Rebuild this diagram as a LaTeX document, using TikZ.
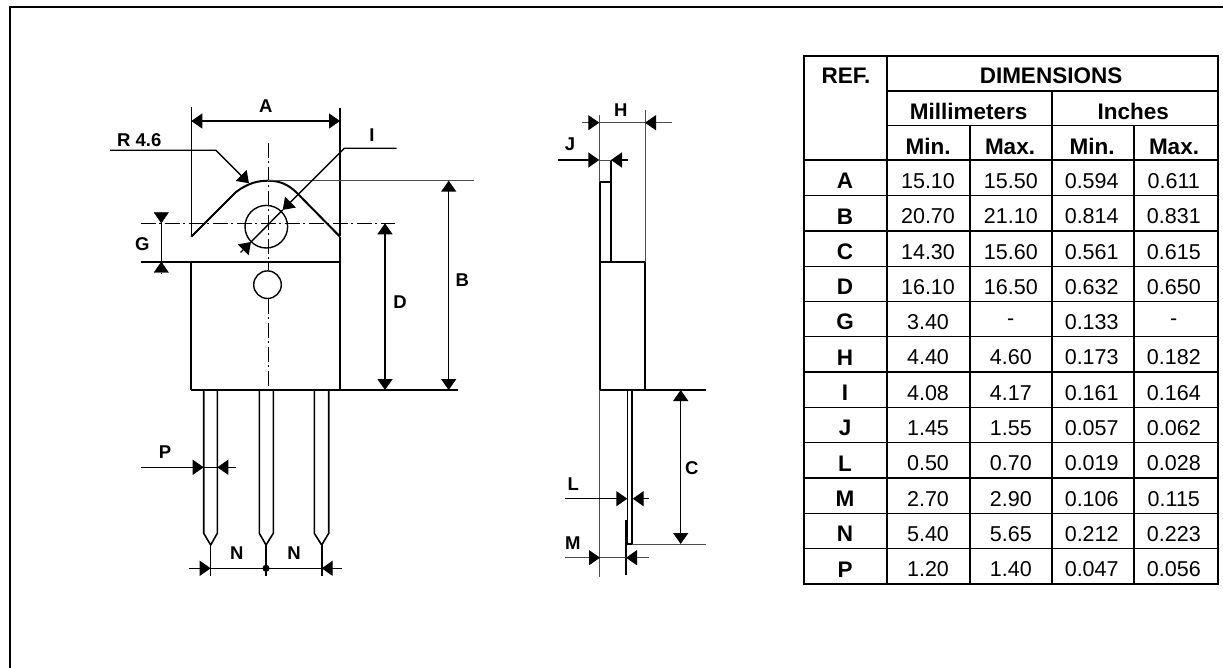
\documentclass[tikz,border=0pt]{standalone}
\usepackage{fontspec}
\setmainfont{Liberation Sans}
\usetikzlibrary{arrows.meta}
\tikzset{
  thickline/.style={line width=2pt},
  pinline/.style={line width=1.6pt},
  thinline/.style={line width=0.9pt,black!70},
  axisline/.style={line width=1pt,dash pattern=on 15pt off 3.5pt on 2pt off 3.5pt},
  dimline/.style={line width=1.4pt},
  tip/.style={-{Triangle[length=11pt,width=15pt,black]}},
  tipboth/.style={{Triangle[length=11pt,width=15pt,black]}-{Triangle[length=11pt,width=15pt,black]}},
  lbl/.style={font=\fontsize{18.5}{18.5}\selectfont\bfseries,inner sep=0pt},
  cell/.style={font=\fontsize{21.5}{21.5}\selectfont,inner sep=0pt},
  headcell/.style={font=\fontsize{22.5}{22.5}\selectfont\bfseries,inner sep=0pt}
}
\begin{document}
\begin{tikzpicture}[x=1pt,y=-1pt]
    \useasboundingbox (0,0) rectangle (1223,668);
    % frame
    \draw[line width=2pt] (10,668) -- (10,7) -- (1223,7);

    % front view
    \draw[line width=1.2pt] (191.3,107) -- (191.3,236);
    \draw[line width=1.2pt] (340,108) -- (340,236);
    \draw[thickline] (191.3,236.7) -- (236,192) .. controls (248,183) and (258,180.7) .. (268.3,180.7)
      .. controls (279,180.7) and (288,184) .. (297,193) -- (340,236.7);
    \draw[thickline] (140.7,261.7) -- (340,261.7);
    \draw[thickline] (191.3,261.7) -- (191.3,390);
    \draw[line width=1.4pt] (340,236.7) -- (340,390);
    \draw[thickline] (191.3,390) -- (458,390);
    \draw[line width=1.4pt] (266.3,226.7) circle (21.3);
    \draw[line width=1.4pt] (267.5,284.7) circle (13.8);
    \draw[axisline] (268.3,143) -- (268.3,271);
    \draw[axisline] (268.3,298.5) -- (268.3,390);
    \draw[axisline] (140.7,223.3) -- (395,223.3);
    \draw[thinline] (268.3,180.7) -- (474,180.7);

    % pins
    \draw[pinline] (203.7,390) -- (203.7,533.3) -- (210.7,545) -- (217.3,533.3) -- (217.3,390);
    \draw[pinline] (259.3,390) -- (259.3,533.3) -- (266,545) -- (273.3,533.3) -- (273.3,390);
    \draw[pinline] (314.3,390) -- (314.3,533.3) -- (321.7,545) -- (328.7,533.3) -- (328.7,390);
    \draw[dimline] (210.7,545) -- (210.7,576);
    \draw[dimline] (266,545) -- (266,576);
    \draw[thickline] (321.7,545) -- (321.7,576);

    % dimensions of the front view
    \draw[dimline,tipboth] (191.3,121) -- (340,121);
    \node[lbl] (labelA) at (265.7,105.7) {A};
    \draw[dimline,tipboth] (448.7,180.7) -- (448.7,390);
    \node[lbl] (labelB) at (462.3,280) {B};
    \draw[dimline,tipboth] (385,223.3) -- (385,390);
    \node[lbl] (labelD) at (400,301.7) {D};
    \draw[dimline] (161.3,223.3) -- (161.3,261.7);
    \draw[tip] (161.3,212.3) -- (161.3,223.3);
    \draw[tip] (161.3,272.7) -- (161.3,261.7);
    \node[lbl] (labelG) at (142.3,244) {G};
    \draw[dimline,tip] (110,150.3) -- (216,150.3) -- (249,183.3);
    \node[lbl] (labelR) at (139.3,140) {R 4.6};
    \draw[dimline,tip] (396.7,148.3) -- (344.3,148.3) -- (282.7,209.9);
    \draw[dimline,tip] (240.5,252.5) -- (251,242);
    \draw[dimline] (282.7,209.9) -- (251,242);
    \node[lbl] (labelI) at (372,135) {I};
    \draw[dimline,tip] (140.7,467.3) -- (203.7,467.3);
    \draw[dimline,tip] (236,467.3) -- (217.3,467.3);
    \draw[dimline] (203.7,467.3) -- (217.3,467.3);
    \node[lbl] (labelP) at (165,451.7) {P};
    \draw[dimline,tip] (189.3,568.3) -- (210.7,568.3);
    \draw[dimline,tip] (342,568.3) -- (321.7,568.3);
    \draw[dimline] (210.7,568.3) -- (321.7,568.3);
    \filldraw (266,568.3) circle (3.3);
    \node[lbl] (labelNa) at (236.7,553.3) {N};
    \node[lbl] (labelNb) at (294,553.3) {N};

    % side view
    \draw[thinline] (599,115) -- (599,576.7);
    \draw[thinline] (645,110) -- (645,262);
    \draw[thickline] (599.7,182.3) -- (611,182.3);
    \draw[thickline] (611,160) -- (611,262);
    \draw[pinline] (599.7,182.3) -- (599.7,390);
    \draw[pinline] (599.7,262) -- (645,262);
    \draw[thickline] (645,262) -- (645,390);
    \draw[thickline] (599.7,390) -- (706,390);
    \draw[line width=1.2pt] (627.3,390) -- (627.3,544);
    \draw[pinline] (632,390) -- (632,544) -- (627.3,544);
    \draw[thinline] (632,544) -- (706,544);
    \draw[dimline] (626,520) -- (626,575);

    % dimensions of the side view
    \draw[thinline,tip] (582.3,122.7) -- (599.3,122.7);
    \draw[thinline,tip] (672.3,122.7) -- (645,122.7);
    \draw[thinline] (599.3,122.7) -- (645,122.7);
    \node[lbl] (labelH) at (620.7,110) {H};
    \draw[dimline,tip] (558.3,160) -- (599.3,160);
    \draw[dimline,tip] (628,160) -- (611,160);
    \draw[thinline] (599.3,160) -- (611,160);
    \node[lbl] (labelJ) at (570,144) {J};
    \draw[dimline,tip] (565,498.7) -- (627.3,498.7);
    \draw[dimline,tip] (649.3,498.7) -- (632.7,498.7);
    \node[lbl] (labelL) at (573.3,484) {L};
    \draw[thinline,tip] (565,557.7) -- (600,557.7);
    \draw[thinline,tip] (649.3,557.7) -- (626,557.7);
    \draw[thinline] (600,557.7) -- (626,557.7);
    \node[lbl] (labelM) at (572.7,542.7) {M};
    \draw[dimline,tipboth] (680.7,390) -- (680.7,544);
    \node[lbl] (labelC) at (691.7,467.7) {C};

    % table
    \draw[line width=1.3pt] (804,56) rectangle (1218,584);
    \draw[line width=1.3pt] (887,56) -- (887,584);
    \draw[line width=1.3pt] (970,125.7) -- (970,584);
    \draw[line width=1.6pt] (1052,91) -- (1052,584);
    \draw[line width=1.3pt] (1134,125.7) -- (1134,584);
    \draw[line width=1.6pt] (887,91) -- (1218,91);
    \draw[line width=1.3pt] (887,125.7) -- (1218,125.7);
    \draw[line width=1.6pt] (804,160.3) -- (1218,160.3);
    \foreach \i in {1,...,11}
      \draw[line width=1.3pt] (804,160.3+35.3*\i) -- (1218,160.3+35.3*\i);
    \node[headcell] (headRef) at (846,76) {REF.};
    \node[headcell] (headDim) at (1051,76) {DIMENSIONS};
    \node[headcell] (headMm) at (968.7,111.5) {Millimeters};
    \node[headcell] (headIn) at (1133.3,111.5) {Inches};
    \node[headcell] (headMinA) at (928,146.5) {Min.};
    \node[headcell] (headMaxA) at (1010,146.5) {Max.};
    \node[headcell] (headMinB) at (1092,146.5) {Min.};
    \node[headcell] (headMaxB) at (1174,146.5) {Max.};
    \foreach \i/\ref/\mina/\maxa/\minb/\maxb in {
      0/A/15.10/15.50/0.594/0.611,
      1/B/20.70/21.10/0.814/0.831,
      2/C/14.30/15.60/0.561/0.615,
      3/D/16.10/16.50/0.632/0.650,
      4/G/3.40/-/0.133/-,
      5/H/4.40/4.60/0.173/0.182,
      6/I/4.08/4.17/0.161/0.164,
      7/J/1.45/1.55/0.057/0.062,
      8/L/0.50/0.70/0.019/0.028,
      9/M/2.70/2.90/0.106/0.115,
      10/N/5.40/5.65/0.212/0.223,
      11/P/1.20/1.40/0.047/0.056}{
      \node[headcell] (ref\i) at (845,181+35.3*\i) {\ref};
      \node[cell] (mina\i) at (928,181+35.3*\i) {\mina};
      \node[cell] (maxa\i) at (1010.8,181+35.3*\i) {\maxa};
      \node[cell] (minb\i) at (1091.7,181+35.3*\i) {\minb};
      \node[cell] (maxb\i) at (1173.8,181+35.3*\i) {\maxb};
    }
  \end{tikzpicture}
\end{document}
